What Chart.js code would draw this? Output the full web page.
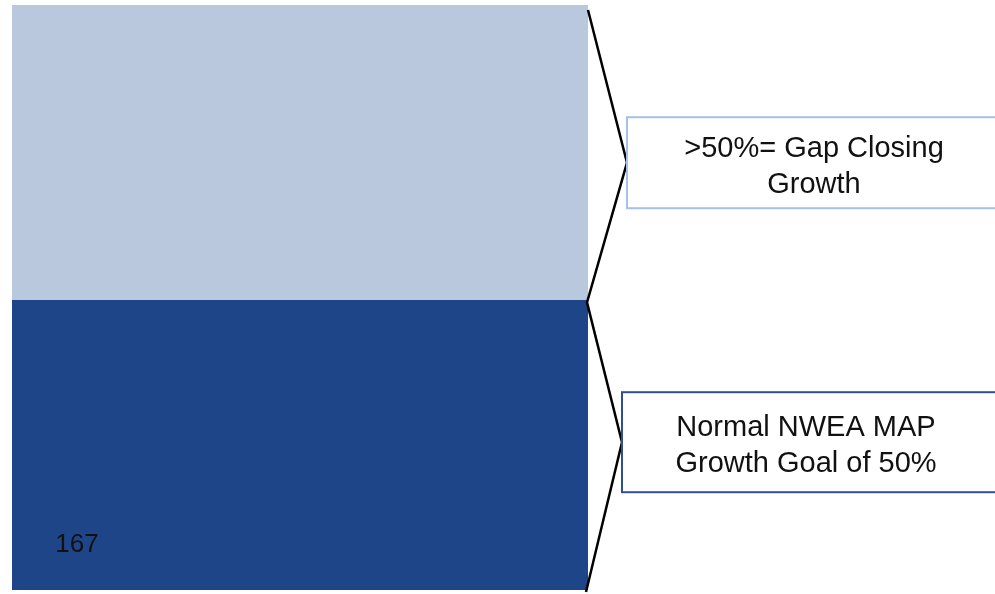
<!DOCTYPE html>
<html>
<head>
<meta charset="utf-8">
<script src="https://cdn.jsdelivr.net/npm/chart.js@4/dist/chart.umd.min.js"></script>
<style>
  html, body { margin: 0; padding: 0; background: #fff; }
  #wrap { width: 995px; height: 594px; position: relative; }
</style>
</head>
<body>
<div id="wrap"><canvas id="myChart"></canvas></div>
<script>
const categories = ['Students'];
const normalGrowth = [49.5];   // dark segment, bottom
const gapClosing = [50.5];     // light segment, top
const countLabels = ['167'];
const normalText = ['Normal NWEA MAP', 'Growth Goal of 50%'];
const gapText = ['>50%= Gap Closing', 'Growth'];

const FONT = '"Liberation Sans", Arial, sans-serif';

// braces, callout boxes and the count label, placed off the bar element
const calloutPlugin = {
    id: 'callouts',
    afterDatasetsDraw(chart) {
        const ctx = chart.ctx;
        const y = chart.scales.y;
        const bar = chart.getDatasetMeta(0).data[0];
        const right = bar.x + bar.width / 2;
        const left = bar.x - bar.width / 2;
        const yBase = y.getPixelForValue(0);
        const ySplit = y.getPixelForValue(normalGrowth[0]);
        const yTop = y.getPixelForValue(normalGrowth[0] + gapClosing[0]);

        ctx.save();

        // count label
        ctx.fillStyle = '#111';
        ctx.font = '26px ' + FONT;
        ctx.textAlign = 'center';
        ctx.textBaseline = 'middle';
        ctx.fillText(countLabels[0], left + 65, yBase - 45);

        // braces
        const topTip = { x: right + 39, y: (yTop + ySplit) / 2 + 10 };
        const botTip = { x: right + 34, y: (ySplit + yBase) / 2 - 3 };
        ctx.strokeStyle = '#000';
        ctx.lineWidth = 2.5;
        ctx.lineJoin = 'miter';
        ctx.beginPath();
        ctx.moveTo(right, yTop + 5);
        ctx.lineTo(topTip.x, topTip.y);
        ctx.lineTo(right - 1, ySplit + 2);
        ctx.lineTo(botTip.x, botTip.y);
        ctx.lineTo(right - 2, yBase + 2);
        ctx.stroke();

        // callout boxes
        const boxes = [
            { tip: topTip, h: 91, color: '#A6C1E8', lines: gapText, cx: right + 226 },
            { tip: botTip, h: 100, color: '#2F4F8E', lines: normalText, cx: right + 218 }
        ];
        ctx.font = '29px ' + FONT;
        boxes.forEach(b => {
            ctx.strokeStyle = b.color;
            ctx.lineWidth = 2;
            ctx.fillStyle = '#fff';
            ctx.fillRect(b.tip.x, b.tip.y - b.h / 2, 420, b.h);
            ctx.strokeRect(b.tip.x, b.tip.y - b.h / 2, 420, b.h);
            ctx.fillStyle = '#111';
            ctx.fillText(b.lines[0], b.cx, b.tip.y - 14);
            ctx.fillText(b.lines[1], b.cx, b.tip.y + 22);
        });

        ctx.restore();
    }
};

const data = {
    labels: categories,
    datasets: [
        {
            label: 'Normal NWEA MAP Growth',
            data: normalGrowth,
            backgroundColor: '#1F4589',
            barPercentage: 1,
            categoryPercentage: 1
        },
        {
            label: 'Gap Closing Growth',
            data: gapClosing,
            backgroundColor: '#BAC8DE',
            barPercentage: 1,
            categoryPercentage: 1
        }
    ]
};

const config = {
    type: 'bar',
    data: data,
    options: {
        responsive: true,
        maintainAspectRatio: false,
        animation: false,
        layout: {
            padding: { left: 12, right: 407, top: 5, bottom: 4 }
        },
        plugins: {
            legend: { display: false },
            tooltip: { enabled: false }
        },
        scales: {
            x: { stacked: true, display: false },
            y: { stacked: true, display: false, min: 0, max: 100 }
        }
    },
    plugins: [calloutPlugin]
};

new Chart(document.getElementById('myChart').getContext('2d'), config);
</script>
</body>
</html>
